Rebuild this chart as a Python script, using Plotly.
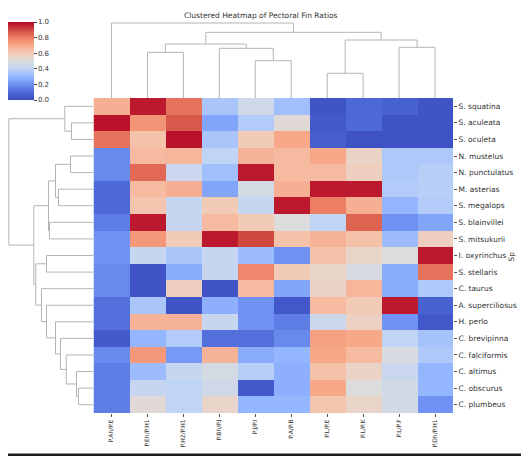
import plotly.graph_objects as go

W, H = 529, 456
OFF = 8  # page body margin in the browser

# fin ratios, in clustered (leaf) order
ratios = ["P.Ah/P.E", "P.Eh/P.H1", "P.H2/P.H1", "P.Bh/P.J", "P.J/P.I",
          "P.A/P.B", "P.L/P.E", "P.L/P.K", "P.L/P.F", "P.Dh/P.H1"]

# species, in clustered (leaf) order
species = ["S. squatina", "S. aculeata", "S. oculeta", "N. mustelus",
           "N. punctulatus", "M. asterias", "S. megalops", "S. blainvillei",
           "S. mitsukurii", "I. oxyrinchus", "S. stellaris", "C. taurus",
           "A. superciliosus", "H. perlo", "C. brevipinna", "C. falciformis",
           "C. altimus", "C. obscurus", "C. plumbeus"]

# scaled ratio values, one row per species
values = [
    [0.68, 0.97, 0.82, 0.35, 0.45, 0.33, 0.03, 0.10, 0.08, 0.03],
    [0.98, 0.75, 0.87, 0.25, 0.37, 0.52, 0.05, 0.10, 0.03, 0.03],
    [0.82, 0.63, 0.98, 0.35, 0.60, 0.70, 0.06, 0.02, 0.02, 0.02],
    [0.18, 0.65, 0.66, 0.40, 0.67, 0.65, 0.70, 0.56, 0.36, 0.36],
    [0.18, 0.84, 0.43, 0.33, 0.97, 0.65, 0.65, 0.58, 0.36, 0.38],
    [0.10, 0.65, 0.68, 0.25, 0.47, 0.68, 0.97, 0.97, 0.37, 0.38],
    [0.10, 0.62, 0.42, 0.60, 0.42, 0.97, 0.80, 0.68, 0.30, 0.37],
    [0.15, 0.97, 0.42, 0.65, 0.60, 0.50, 0.40, 0.85, 0.20, 0.25],
    [0.20, 0.74, 0.60, 0.97, 0.90, 0.63, 0.67, 0.63, 0.32, 0.58],
    [0.20, 0.42, 0.35, 0.42, 0.32, 0.20, 0.63, 0.55, 0.50, 0.97],
    [0.18, 0.03, 0.27, 0.42, 0.78, 0.60, 0.55, 0.48, 0.27, 0.82],
    [0.18, 0.03, 0.58, 0.03, 0.65, 0.25, 0.56, 0.66, 0.27, 0.36],
    [0.12, 0.35, 0.03, 0.28, 0.20, 0.04, 0.65, 0.60, 0.97, 0.08],
    [0.12, 0.67, 0.67, 0.42, 0.20, 0.15, 0.44, 0.57, 0.20, 0.04],
    [0.05, 0.30, 0.37, 0.12, 0.12, 0.18, 0.72, 0.70, 0.40, 0.34],
    [0.18, 0.74, 0.22, 0.67, 0.27, 0.30, 0.70, 0.65, 0.48, 0.36],
    [0.15, 0.32, 0.42, 0.47, 0.38, 0.28, 0.63, 0.56, 0.43, 0.30],
    [0.15, 0.42, 0.40, 0.45, 0.05, 0.28, 0.70, 0.50, 0.46, 0.30],
    [0.15, 0.52, 0.40, 0.55, 0.30, 0.30, 0.62, 0.55, 0.46, 0.20],
]

# linkage (left, right, distance); ids >= n refer to earlier merges
row_links = [
    (1, 2, 22.0), (0, 19, 28.7), (3, 4, 23.0), (5, 6, 35.0),
    (21, 22, 38.0), (7, 8, 44.0), (23, 24, 45.0), (9, 10, 47.0),
    (17, 18, 15.0), (16, 27, 17.0), (15, 28, 27.3), (14, 29, 33.0),
    (13, 30, 38.0), (12, 31, 47.0), (11, 32, 52.0), (26, 33, 57.7),
    (25, 34, 59.7), (20, 35, 84.7),
]
col_links = [
    (1, 2, 45.7), (4, 5, 37.3), (3, 11, 49.7), (10, 12, 54.0),
    (6, 7, 24.7), (8, 9, 50.7), (14, 15, 58.0), (13, 16, 65.7),
    (0, 17, 75.0),
]

coolwarm = [
    [0.0, "rgb(59,76,192)"], [0.1, "rgb(77,104,215)"],
    [0.2, "rgb(111,146,243)"], [0.3, "rgb(148,182,255)"],
    [0.4, "rgb(192,212,245)"], [0.5, "rgb(221,220,220)"],
    [0.6, "rgb(242,203,183)"], [0.7, "rgb(247,168,137)"],
    [0.8, "rgb(236,127,99)"], [0.9, "rgb(208,73,64)"],
    [1.0, "rgb(180,4,38)"],
]


def dendro(links, n):
    pos = list(range(n))
    hgt = [0.0] * n
    p, h = [], []
    for a, b, d in links:
        p += [pos[a], pos[a], pos[b], pos[b], None]
        h += [hgt[a], d, d, hgt[b], None]
        pos.append((pos[a] + pos[b]) / 2)
        hgt.append(d)
    return p, h


FW, FH = W - OFF, H - OFF


def px(x):
    return (x - OFF) / FW


def py(y):
    return 1 - (y - OFF) / FH


font = "DejaVu Sans"
line_col = "#b4b4b4"

fig = go.Figure()

fig.add_trace(go.Heatmap(
    z=values, x=list(range(len(ratios))), y=list(range(len(species))),
    colorscale=coolwarm, zmin=0, zmax=1,
    colorbar=dict(
        x=px(8), xanchor="left", y=py(22), yanchor="top",
        len=78, lenmode="pixels", thickness=26, thicknessmode="pixels",
        xpad=0, ypad=0, outlinewidth=0, ticks="outside", ticklen=3,
        tickcolor="#444", tickvals=[0, 0.2, 0.4, 0.6, 0.8, 1.0],
        tickformat=".1f", tickfont=dict(size=7, color="#333", family=font),
    ),
))

cp, ch = dendro(col_links, len(ratios))
fig.add_trace(go.Scatter(x=cp, y=ch, mode="lines", xaxis="x2", yaxis="y2",
                         line=dict(color=line_col, width=1), hoverinfo="skip",
                         showlegend=False))

rp, rh = dendro(row_links, len(species))
fig.add_trace(go.Scatter(x=rh, y=rp, mode="lines", xaxis="x3", yaxis="y3",
                         line=dict(color=line_col, width=1), hoverinfo="skip",
                         showlegend=False))

hx = [px(93.5), px(453)]
hy = [py(413), py(98)]
fig.update_layout(
    width=FW, height=FH, margin=dict(l=0, r=0, t=0, b=0),
    paper_bgcolor="white", plot_bgcolor="white",
    font=dict(family=font, color="#333"),
    xaxis=dict(domain=hx, range=[-0.5, 9.5], tickvals=list(range(len(ratios))),
               ticktext=ratios, tickangle=-90, ticks="outside", ticklen=3,
               tickcolor="#555", tickfont=dict(size=6, color="#333"),
               showgrid=False, zeroline=False, automargin=False, anchor="y"),
    yaxis=dict(domain=hy, range=[18.5, -0.5], side="right",
               tickvals=list(range(len(species))), ticktext=species,
               ticks="outside", ticklen=3, tickcolor="#555",
               tickfont=dict(size=7.5, color="#333"), showgrid=False,
               zeroline=False, automargin=False, anchor="x"),
    xaxis2=dict(domain=hx, range=[-0.5, 9.5], visible=False, anchor="y2"),
    yaxis2=dict(domain=[py(98), py(22)], range=[0, 76], visible=False,
                anchor="x2"),
    xaxis3=dict(domain=[px(8), px(93.5)], range=[85.5, 0], visible=False,
                anchor="y3"),
    yaxis3=dict(domain=hy, range=[18.5, -0.5], visible=False, anchor="x3"),
    annotations=[
        dict(text="Clustered Heatmap of Pectoral Fin Ratios", x=px(261),
             y=py(9), xref="paper", yref="paper", showarrow=False,
             yanchor="top", font=dict(size=7.5, color="#333")),
        dict(text="Sp", x=px(517), y=py(257), xref="paper", yref="paper",
             showarrow=False, textangle=-90, font=dict(size=7.5, color="#333")),
    ],
    shapes=[
        dict(type="line", xref="paper", yref="paper", x0=0, x1=1, y0=0, y1=0,
             line=dict(color="#1c1c1c", width=5)),
    ],
)

fig.write_html("out.html")
